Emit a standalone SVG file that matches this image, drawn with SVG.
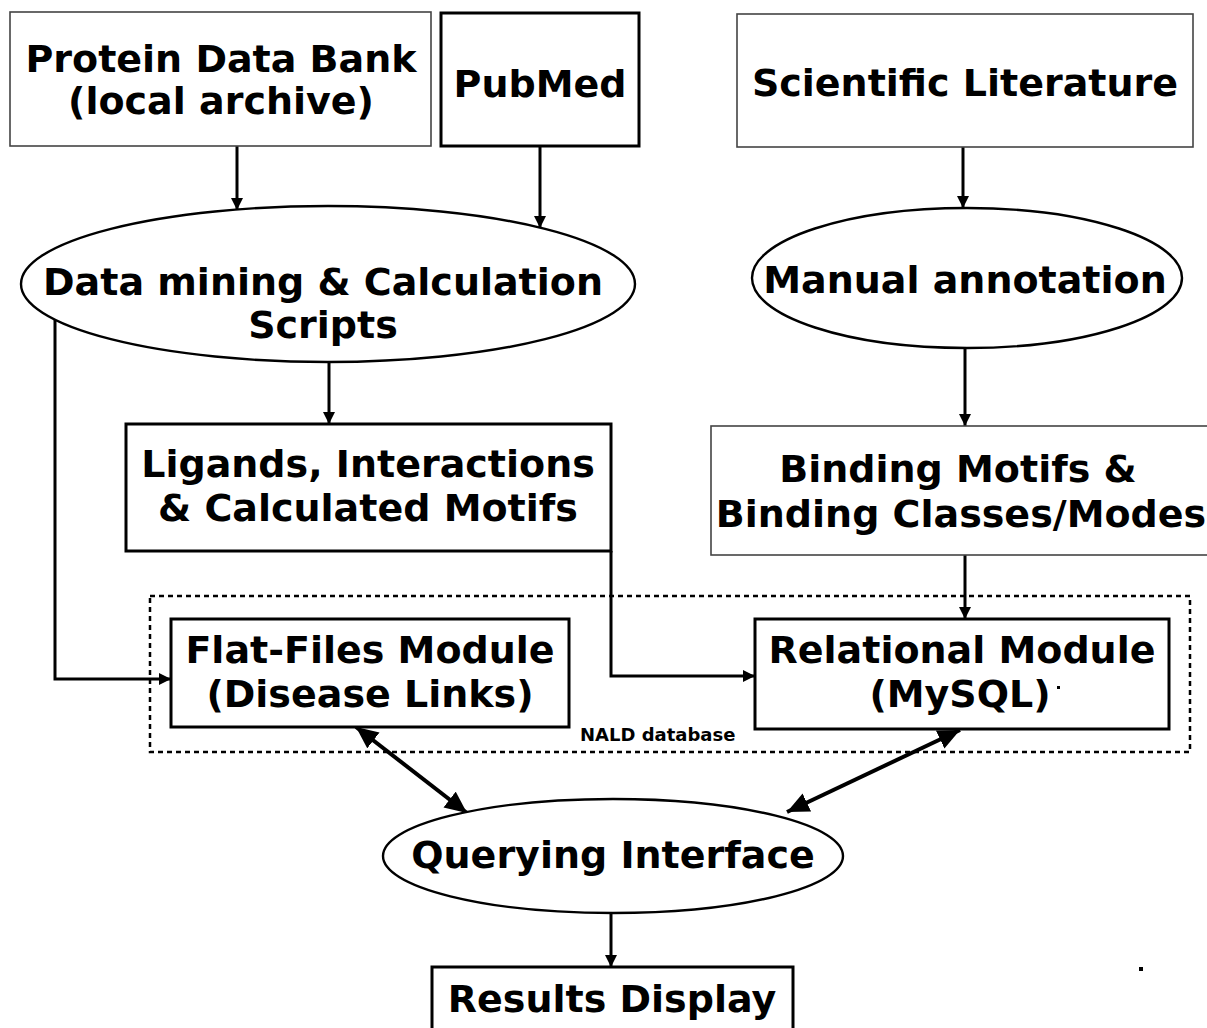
<svg xmlns="http://www.w3.org/2000/svg" width="1207" height="1028" viewBox="0 0 1207 1028">
  <style>
    .lbl { font-family: "DejaVu Sans", "Noto Sans", sans-serif; font-weight: bold; font-size: 38px; fill: #000; text-anchor: middle; }
    .small { font-family: "DejaVu Sans", "Noto Sans", sans-serif; font-weight: bold; font-size: 18px; fill: #000; }
    .box { fill: #fff; stroke: #000; stroke-width: 3; }
    .boxg { fill: #fff; stroke: #444; stroke-width: 1.6; }
    .ell { fill: #fff; stroke: #000; stroke-width: 2.4; }
    .wire { fill: none; stroke: #000; stroke-width: 3; }
    .wireB { fill: none; stroke: #000; stroke-width: 4; }
  </style>
  <defs>
    <marker id="ah" markerUnits="userSpaceOnUse" markerWidth="13" markerHeight="13" refX="12" refY="6" orient="auto">
      <path d="M0,0 L12,6 L0,12 z" fill="#000"/>
    </marker>
    <marker id="ahL" markerUnits="userSpaceOnUse" markerWidth="24" markerHeight="22" refX="22" refY="10" orient="auto-start-reverse">
      <path d="M0,0 L22,10 L0,20 z" fill="#000"/>
    </marker>
  </defs>
  <rect width="1207" height="1028" fill="#fff"/>

  <!-- database container -->
  <g id="nald-db">
    <rect x="150" y="596" width="1040" height="156" fill="none" stroke="#000" stroke-width="2.5" stroke-dasharray="5,4"/>
    <text class="small" x="580" y="741">NALD database</text>
  </g>

  <!-- connectors -->
  <g id="connectors">
    <path class="wire" d="M237,146 V210" marker-end="url(#ah)"/>
    <path class="wire" d="M540,146 V228" marker-end="url(#ah)"/>
    <path class="wire" d="M963,147 V208" marker-end="url(#ah)"/>
    <path class="wire" d="M329,362 V424" marker-end="url(#ah)"/>
    <path class="wire" d="M965,348 V426" marker-end="url(#ah)"/>
    <path class="wire" d="M55,319 V679 H171" marker-end="url(#ah)"/>
    <path class="wire" d="M611,551 V676 H755" marker-end="url(#ah)"/>
    <path class="wire" d="M965,555 V619" marker-end="url(#ah)"/>
    <path class="wireB" d="M356,727 L467,813" marker-start="url(#ahL)" marker-end="url(#ahL)"/>
    <path class="wireB" d="M960,730 L787,812" marker-start="url(#ahL)" marker-end="url(#ahL)"/>
    <path class="wire" d="M611,913 V967" marker-end="url(#ah)"/>
  </g>

  <g id="pdb">
    <rect class="boxg" x="10" y="12" width="421" height="134"/>
    <text class="lbl" x="221" y="72">Protein Data Bank</text>
    <text class="lbl" x="221" y="114">(local archive)</text>
  </g>

  <g id="pubmed">
    <rect class="box" x="441" y="13" width="198" height="133" stroke-width="2.5"/>
    <text class="lbl" x="540" y="97">PubMed</text>
  </g>

  <g id="sci-lit">
    <rect class="boxg" x="737" y="14" width="456" height="133"/>
    <text class="lbl" x="965" y="96">Scientific Literature</text>
  </g>

  <g id="mining">
    <ellipse class="ell" cx="328" cy="284" rx="307" ry="78"/>
    <text class="lbl" x="323" y="295">Data mining &amp; Calculation</text>
    <text class="lbl" x="323" y="338">Scripts</text>
  </g>

  <g id="manual">
    <ellipse class="ell" cx="967" cy="278" rx="215" ry="70"/>
    <text class="lbl" x="965" y="293">Manual annotation</text>
  </g>

  <g id="ligands">
    <rect class="box" x="126" y="424" width="485" height="127" stroke-width="2.5"/>
    <text class="lbl" x="368" y="477">Ligands, Interactions</text>
    <text class="lbl" x="368" y="521">&amp; Calculated Motifs</text>
  </g>

  <g id="binding">
    <rect class="boxg" x="711" y="426" width="510" height="129"/>
    <text class="lbl" x="958" y="482">Binding Motifs &amp;</text>
    <text class="lbl" x="961" y="527">Binding Classes/Modes</text>
  </g>

  <g id="flat-files">
    <rect class="box" x="171" y="619" width="398" height="108"/>
    <text class="lbl" x="370" y="663">Flat-Files Module</text>
    <text class="lbl" x="370" y="707">(Disease Links)</text>
  </g>

  <g id="relational">
    <rect class="box" x="755" y="619" width="414" height="110"/>
    <text class="lbl" x="962" y="663">Relational Module</text>
    <text class="lbl" x="960" y="707">(MySQL)</text>
    <rect x="1057" y="686" width="3" height="3" fill="#000"/>
  </g>

  <g id="querying">
    <ellipse class="ell" cx="613" cy="856" rx="230" ry="57"/>
    <text class="lbl" x="613" y="868">Querying Interface</text>
  </g>

  <g id="results">
    <rect class="box" x="432" y="967" width="361" height="70" stroke-width="2.5"/>
    <text class="lbl" x="612" y="1012">Results Display</text>
  </g>

  <rect x="1139" y="967" width="4" height="4" fill="#000"/>
</svg>
